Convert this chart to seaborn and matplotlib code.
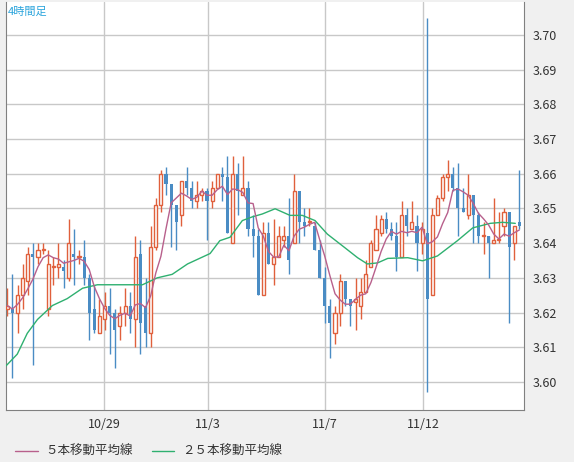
import numpy as np
import pandas as pd
import seaborn as sns
import matplotlib.pyplot as plt

# 4-hour candles
opens = [3.621, 3.621, 3.620, 3.625, 3.629, 3.637, 3.636, 3.638, 3.621, 3.633,
         3.633, 3.633, 3.630, 3.637, 3.636, 3.636, 3.630, 3.621, 3.614, 3.618,
         3.622, 3.620, 3.616, 3.620, 3.622, 3.618, 3.637, 3.622, 3.614, 3.639,
         3.651, 3.660, 3.657, 3.651, 3.648, 3.658, 3.656, 3.652, 3.654, 3.655,
         3.652, 3.656, 3.660, 3.659, 3.640, 3.660, 3.654, 3.656, 3.644, 3.642,
         3.625, 3.643, 3.634, 3.636, 3.641, 3.642, 3.640, 3.655, 3.646, 3.646,
         3.645, 3.638, 3.630, 3.622, 3.614, 3.620, 3.629, 3.624, 3.623, 3.622,
         3.626, 3.633, 3.638, 3.643, 3.647, 3.644, 3.642, 3.636, 3.648, 3.644,
         3.645, 3.640, 3.643, 3.625, 3.648, 3.653, 3.659, 3.660, 3.656, 3.650,
         3.648, 3.654, 3.648, 3.642, 3.642, 3.640, 3.641, 3.645, 3.649, 3.640,
         3.646]
closes = [3.622, 3.620, 3.625, 3.630, 3.637, 3.636, 3.638, 3.638, 3.634, 3.633,
          3.634, 3.632, 3.640, 3.636, 3.636, 3.630, 3.620, 3.615, 3.619, 3.622,
          3.620, 3.615, 3.620, 3.622, 3.618, 3.636, 3.617, 3.614, 3.639, 3.651,
          3.660, 3.657, 3.651, 3.646, 3.658, 3.656, 3.652, 3.654, 3.655, 3.652,
          3.656, 3.660, 3.659, 3.643, 3.660, 3.655, 3.656, 3.644, 3.642, 3.625,
          3.643, 3.634, 3.636, 3.642, 3.642, 3.635, 3.655, 3.646, 3.645, 3.646,
          3.638, 3.630, 3.622, 3.617, 3.620, 3.629, 3.624, 3.622, 3.624, 3.626,
          3.631, 3.640, 3.644, 3.647, 3.644, 3.642, 3.636, 3.648, 3.645, 3.646,
          3.640, 3.644, 3.624, 3.648, 3.653, 3.659, 3.660, 3.656, 3.650, 3.649,
          3.654, 3.648, 3.642, 3.642, 3.640, 3.641, 3.641, 3.649, 3.639, 3.645,
          3.645]
highs = [3.627, 3.631, 3.628, 3.634, 3.639, 3.640, 3.640, 3.640, 3.638, 3.636,
         3.640, 3.635, 3.647, 3.644, 3.638, 3.641, 3.631, 3.628, 3.624, 3.626,
         3.627, 3.621, 3.622, 3.627, 3.626, 3.642, 3.641, 3.630, 3.645, 3.653,
         3.661, 3.662, 3.657, 3.651, 3.658, 3.662, 3.658, 3.658, 3.656, 3.656,
         3.658, 3.660, 3.662, 3.665, 3.665, 3.663, 3.665, 3.658, 3.648, 3.644,
         3.646, 3.646, 3.647, 3.645, 3.645, 3.653, 3.660, 3.655, 3.650, 3.650,
         3.646, 3.641, 3.633, 3.624, 3.622, 3.631, 3.629, 3.624, 3.630, 3.630,
         3.635, 3.641, 3.648, 3.648, 3.649, 3.646, 3.646, 3.652, 3.650, 3.652,
         3.648, 3.646, 3.705, 3.650, 3.654, 3.660, 3.664, 3.662, 3.663, 3.656,
         3.660, 3.654, 3.649, 3.646, 3.642, 3.653, 3.649, 3.650, 3.649, 3.645,
         3.661]
lows = [3.619, 3.601, 3.614, 3.621, 3.625, 3.605, 3.634, 3.637, 3.619, 3.628,
        3.630, 3.627, 3.629, 3.628, 3.634, 3.628, 3.612, 3.614, 3.614, 3.615,
        3.608, 3.604, 3.612, 3.616, 3.614, 3.610, 3.608, 3.610, 3.610, 3.638,
        3.649, 3.654, 3.639, 3.638, 3.645, 3.654, 3.650, 3.650, 3.652, 3.641,
        3.650, 3.656, 3.652, 3.643, 3.640, 3.648, 3.654, 3.642, 3.636, 3.625,
        3.625, 3.634, 3.628, 3.636, 3.639, 3.631, 3.640, 3.640, 3.642, 3.645,
        3.638, 3.630, 3.617, 3.607, 3.611, 3.616, 3.622, 3.616, 3.615, 3.618,
        3.626, 3.633, 3.638, 3.642, 3.643, 3.641, 3.632, 3.636, 3.642, 3.644,
        3.632, 3.637, 3.597, 3.625, 3.648, 3.652, 3.655, 3.655, 3.642, 3.649,
        3.647, 3.640, 3.640, 3.637, 3.630, 3.640, 3.640, 3.642, 3.617, 3.635,
        3.644]

# 25-bar moving average, read at sample points (bar index, value)
ma25_idx = [-1.4, 0, 1.95, 3.9, 5.9, 8.8, 11.7, 14.7, 17.6, 20.5, 23.4, 26.4,
            29.3, 32.2, 33.7, 35.2, 39.6, 41.5, 43.5, 45.9, 47.9, 49.8, 52.3,
            55.2, 57.6, 60.1, 62.5, 65.9, 68.4, 70.3, 72.3, 74.3, 78.2, 81.1,
            84.0, 87.9, 90.9, 94.3, 96.7, 99.2]
ma25_val = [3.603, 3.605, 3.608, 3.614, 3.618, 3.622, 3.624, 3.627, 3.628, 3.628,
            3.628, 3.628, 3.630, 3.631, 3.6325, 3.634, 3.637, 3.6407, 3.6417,
            3.6465, 3.6476, 3.6484, 3.6499, 3.648, 3.648, 3.6465, 3.6426, 3.6387,
            3.6358, 3.634, 3.6343, 3.6356, 3.6358, 3.6349, 3.6363, 3.6407,
            3.6444, 3.6457, 3.646, 3.6457]

date_pos = [18.9, 39.1, 62.05, 81.2]
date_labels = ['10/29', '11/3', '11/7', '11/12']

df = pd.DataFrame({'open': opens, 'close': closes, 'high': highs, 'low': lows})
df['i'] = np.arange(len(df))
df['ma5'] = df['close'].rolling(5, min_periods=1).mean()
ma25 = pd.DataFrame({'i': ma25_idx, 'ma25': ma25_val})

sns.set_style('white')
plt.rcParams['font.family'] = ['Noto Sans CJK JP', 'DejaVu Sans']

UP = '#e0603c'
DN = '#4a8cc4'

fig = plt.figure(figsize=(5.74, 4.62), dpi=100, facecolor='#f0f0f0')
ax = fig.add_axes([6/574, 1-410/462, 518/574, 408/462])
ax.set_facecolor('white')

up = df[df['close'] >= df['open']]
dn = df[df['close'] < df['open']]
ax.vlines(up['i'], up['low'], up['high'], color=UP, lw=1, zorder=2)
ax.vlines(dn['i'], dn['low'], dn['high'], color=DN, lw=1, zorder=2)
ax.bar(up['i'], (up['close'] - up['open']).clip(lower=0.0003), bottom=up['open'],
       width=0.6, facecolor='white', edgecolor=UP, lw=1, zorder=3)
ax.bar(dn['i'], dn['close'] - dn['open'], bottom=dn['open'],
       width=0.6, color=DN, lw=0, zorder=3)

sns.lineplot(data=ma25, x='i', y='ma25', ax=ax, color='#2fb070', lw=1, zorder=4)
sns.lineplot(data=df, x='i', y='ma5', ax=ax, color='#b8608c', lw=1, zorder=4)

ax.set_xlim(-0.25, 100.9)
ax.set_ylim(3.5919, 3.7095)
ax.set_yticks(np.arange(3.60, 3.701, 0.01))
ax.set_yticklabels([f'{v:.2f}' for v in np.arange(3.60, 3.701, 0.01)])
ax.yaxis.tick_right()
ax.set_xticks(date_pos)
ax.set_xticklabels(date_labels)
ax.tick_params(length=0, labelsize=9, colors='#333333', pad=6)
ax.grid(True, color='#c8c8c8', lw=1)
ax.set_axisbelow(True)
ax.set_xlabel('')
ax.set_ylabel('')
for s in ax.spines.values():
    s.set_color('#808080')
ax.spines['top'].set_visible(False)

fig.text(8/574, 1-12/462, '4時間足', color='#2aa4dc', fontsize=8, va='center')

fig.lines.append(plt.Line2D([15/574, 38/574], [1-451/462]*2, color='#b8608c', lw=1,
                            transform=fig.transFigure))
fig.text(45/574, 1-451/462, '５本移動平均線', fontsize=9, va='center', color='#333333')
fig.lines.append(plt.Line2D([152/574, 174/574], [1-451/462]*2, color='#2fb070', lw=1,
                            transform=fig.transFigure))
fig.text(182/574, 1-451/462, '２５本移動平均線', fontsize=9, va='center', color='#333333')

fig.savefig('out.png', dpi=100, facecolor=fig.get_facecolor())
